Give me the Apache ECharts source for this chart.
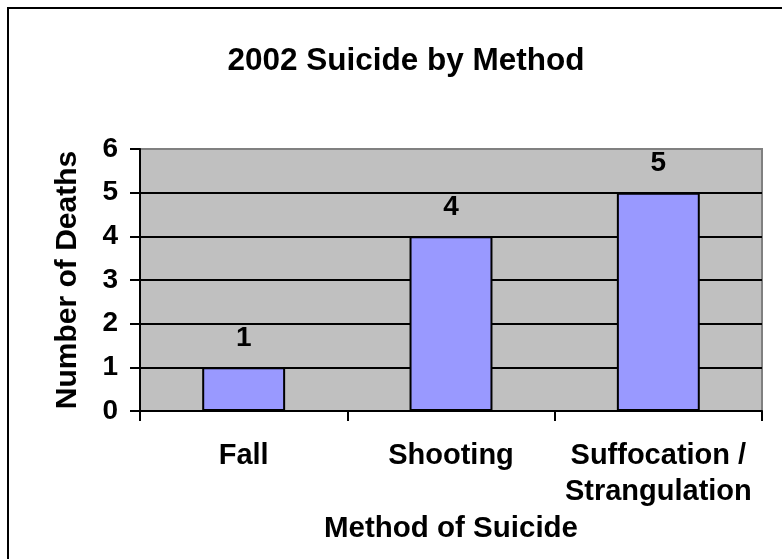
<!DOCTYPE html>
<html>
<head>
<meta charset="utf-8">
<script src="https://cdn.jsdelivr.net/npm/echarts@6/dist/echarts.min.js"></script>
<style>
html,body{margin:0;padding:0;background:#fff;}
#chart{width:782px;height:559px;}
</style>
</head>
<body>
<div id="chart"></div>
<script>
var titleText = '2002 Suicide by Method';
var categories = ['Fall', 'Shooting', 'Suffocation /\nStrangulation'];
var deaths = [1, 4, 5];
var yTicks = [0, 1, 2, 3, 4, 5, 6];
var xAxisTitle = 'Method of Suicide';
var yAxisTitle = 'Number of Deaths';

var FONT = '"Liberation Sans", Arial, sans-serif';
var chart = echarts.init(document.getElementById('chart'), null, {renderer: 'canvas'});
chart.setOption({
  animation: false,
  backgroundColor: '#ffffff',
  title: {
    text: titleText,
    left: 401, textAlign: 'center',
    top: 40,
    textStyle: {fontFamily: FONT, fontWeight: 'bold', fontSize: 31.5, color: '#000'}
  },
  graphic: [{
    type: 'polyline', z: 100,
    shape: {points: [[8, 570], [8, 8], [790, 8]]},
    style: {fill: 'none', stroke: '#000', lineWidth: 2}
  }],
  grid: {
    left: 140, top: 149, width: 622, height: 262,
    show: true, backgroundColor: '#c0c0c0', borderColor: '#808080', borderWidth: 2
  },
  xAxis: {
    type: 'category',
    data: categories,
    name: xAxisTitle,
    nameLocation: 'middle',
    nameGap: 103,
    nameTextStyle: {fontFamily: FONT, fontWeight: 'bold', fontSize: 29.5, color: '#000'},
    axisLine: {lineStyle: {color: '#000', width: 2}},
    axisTick: {show: true, length: 10, lineStyle: {color: '#000', width: 2}},
    axisLabel: {fontFamily: FONT, fontWeight: 'bold', fontSize: 29, color: '#000', margin: 27, lineHeight: 36, interval: 0},
    splitLine: {show: false}
  },
  yAxis: {
    type: 'value',
    min: yTicks[0], max: yTicks[yTicks.length - 1], interval: 1,
    name: yAxisTitle,
    nameLocation: 'middle',
    nameGap: 57,
    nameTextStyle: {fontFamily: FONT, fontWeight: 'bold', fontSize: 30, color: '#000'},
    axisLine: {show: true, lineStyle: {color: '#000', width: 2}},
    axisTick: {show: true, length: 10, lineStyle: {color: '#000', width: 2}},
    axisLabel: {fontFamily: FONT, fontWeight: 'bold', fontSize: 28, color: '#000', margin: 22},
    splitLine: {show: true, lineStyle: {color: ['#000','#000','#000','#000','#000','#000','#808080'], width: 2}}
  },
  series: [{
    type: 'bar',
    data: deaths,
    barWidth: '40%',
    itemStyle: {color: '#9999ff', borderColor: '#000', borderWidth: 2},
    label: {
      show: true, position: 'top', distance: 15,
      fontFamily: FONT, fontWeight: 'bold', fontSize: 28, color: '#000'
    }
  }]
});
</script>
</body>
</html>
